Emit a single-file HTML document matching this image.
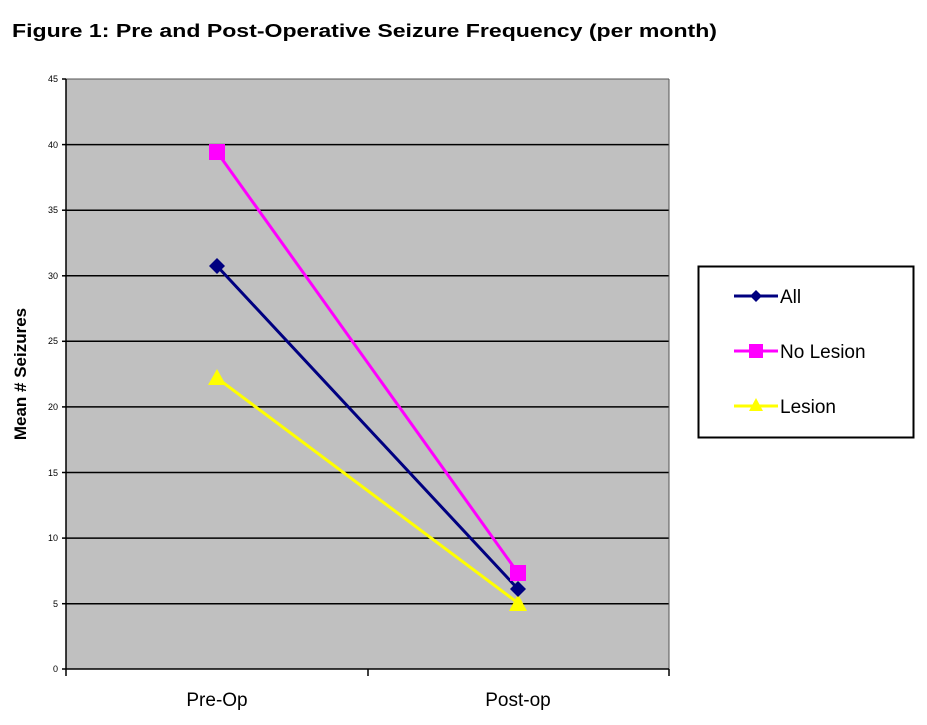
<!DOCTYPE html>
<html><head><style>body{margin:0;background:#fff;}</style></head><body>
<svg width="927" height="720" xmlns="http://www.w3.org/2000/svg" font-family="Liberation Sans, Arial, sans-serif">
<text x="12" y="37" font-size="18" font-weight="bold" textLength="705" lengthAdjust="spacingAndGlyphs">Figure 1:  Pre and Post-Operative Seizure Frequency (per month)</text>
<rect x="66" y="79" width="603" height="590" fill="#c0c0c0"/>
<g stroke="#000" stroke-width="1.5">
<line x1="66" y1="144.6" x2="669" y2="144.6"/>
<line x1="66" y1="210.2" x2="669" y2="210.2"/>
<line x1="66" y1="275.8" x2="669" y2="275.8"/>
<line x1="66" y1="341.3" x2="669" y2="341.3"/>
<line x1="66" y1="406.9" x2="669" y2="406.9"/>
<line x1="66" y1="472.5" x2="669" y2="472.5"/>
<line x1="66" y1="538.1" x2="669" y2="538.1"/>
<line x1="66" y1="603.7" x2="669" y2="603.7"/>
</g>
<g stroke="#555" stroke-width="1"><line x1="66" y1="79" x2="669" y2="79"/><line x1="669" y1="79" x2="669" y2="669"/></g>
<g stroke="#000" stroke-width="1.5">
<line x1="66" y1="79" x2="66" y2="676"/>
<line x1="62" y1="669" x2="669" y2="669"/>
<line x1="62" y1="79" x2="66" y2="79"/><line x1="62" y1="144.6" x2="66" y2="144.6"/><line x1="62" y1="210.2" x2="66" y2="210.2"/><line x1="62" y1="275.8" x2="66" y2="275.8"/><line x1="62" y1="341.3" x2="66" y2="341.3"/><line x1="62" y1="406.9" x2="66" y2="406.9"/><line x1="62" y1="472.5" x2="66" y2="472.5"/><line x1="62" y1="538.1" x2="66" y2="538.1"/><line x1="62" y1="603.7" x2="66" y2="603.7"/>
<line x1="368" y1="669" x2="368" y2="676"/><line x1="669" y1="669" x2="669" y2="676"/>
</g>
<g font-size="9" text-anchor="end">
<text x="58" y="82">45</text><text x="58" y="148">40</text><text x="58" y="213">35</text><text x="58" y="279">30</text><text x="58" y="344">25</text><text x="58" y="410">20</text><text x="58" y="476">15</text><text x="58" y="541">10</text><text x="58" y="607">5</text><text x="58" y="672">0</text>
</g>
<text x="217" y="706" font-size="19" text-anchor="middle">Pre-Op</text>
<text x="518" y="706" font-size="19" text-anchor="middle">Post-op</text>
<text transform="translate(26,374) rotate(-90)" font-size="17" font-weight="bold" text-anchor="middle">Mean # Seizures</text>
<line x1="217" y1="378" x2="518" y2="603" stroke="#ffff00" stroke-width="3"/>
<line x1="217" y1="266" x2="518" y2="589" stroke="#000080" stroke-width="3"/>
<line x1="217" y1="152" x2="518" y2="573" stroke="#ff00ff" stroke-width="3"/>
<polygon points="217,369 226,385 208,385" fill="#ffff00"/>
<polygon points="518,594 527,611 509,611" fill="#ffff00"/>
<polygon points="217,258 225,266 217,274 209,266" fill="#000080"/>
<polygon points="518,581 526,589 518,597 510,589" fill="#000080"/>
<rect x="209" y="144" width="16" height="16" fill="#ff00ff"/>
<rect x="510" y="565" width="16" height="16" fill="#ff00ff"/>
<rect x="698.5" y="266.5" width="215" height="171" fill="#fff" stroke="#000" stroke-width="2"/>
<line x1="734" y1="296" x2="778" y2="296" stroke="#000080" stroke-width="3"/>
<polygon points="756,290 762,296 756,302 750,296" fill="#000080"/>
<line x1="734" y1="351" x2="778" y2="351" stroke="#ff00ff" stroke-width="3"/>
<rect x="749" y="344" width="14" height="14" fill="#ff00ff"/>
<line x1="734" y1="406" x2="778" y2="406" stroke="#ffff00" stroke-width="3"/>
<polygon points="756,398 763,411 749,411" fill="#ffff00"/>
<g font-size="19"><text x="780" y="303">All</text><text x="780" y="358">No Lesion</text><text x="780" y="413">Lesion</text></g>
</svg>
</body></html>
